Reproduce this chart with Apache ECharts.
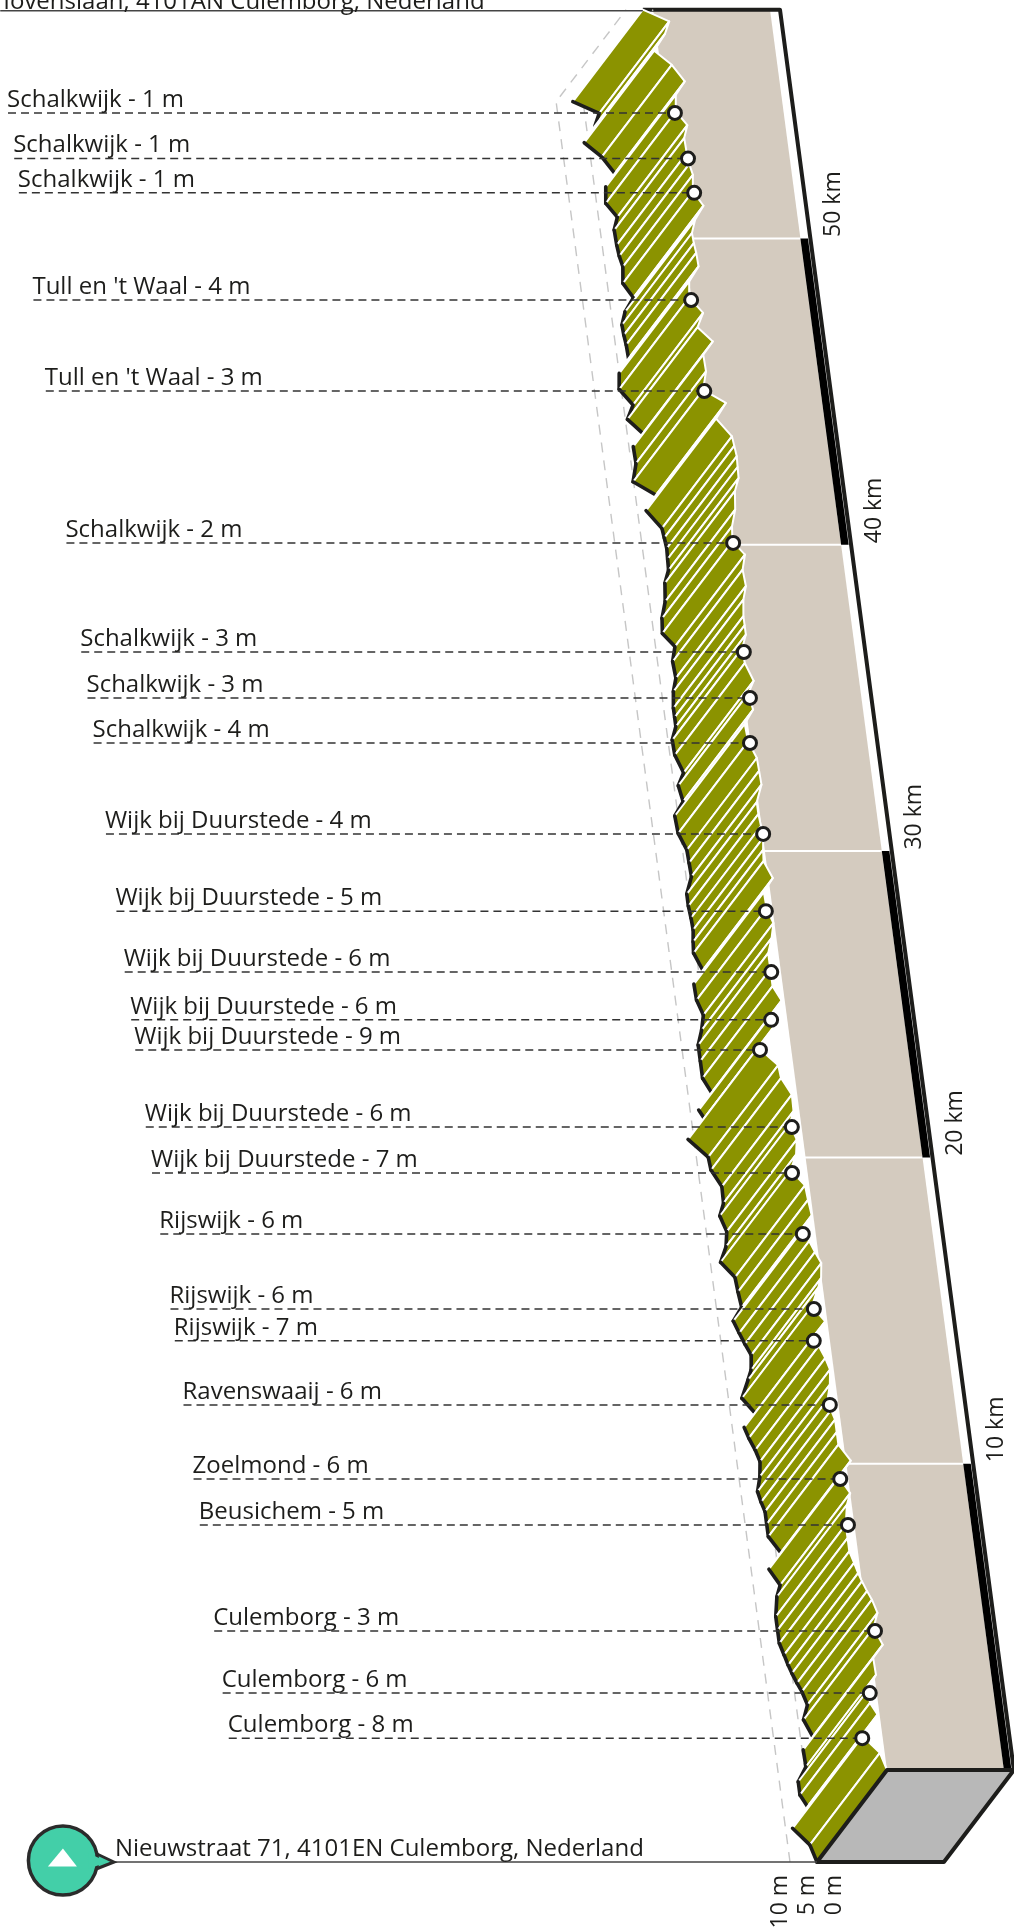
<!DOCTYPE html>
<html>
<head>
<meta charset="utf-8">
<title>Hoogteprofiel Culemborg</title>
<style>
  html, body { margin: 0; padding: 0; background: #fff; overflow: hidden; }
  #chart { width: 1014px; height: 1928px; }
</style>
</head>
<body>
<div id="chart"></div>
<script src="https://cdn.jsdelivr.net/npm/echarts@6/dist/echarts.min.js"></script>
<script>
// height profile along the route, from the far end (top) to the start (bottom)
const profileKm = [
  57.47,57.09,56.68,56.13,55.67,55.13,54.69,54.15,53.70,53.28,
  52.79,52.43,52.08,51.54,51.07,50.61,50.18,49.85,49.53,49.09,
  48.60,48.08,47.57,47.10,46.64,46.21,45.66,45.06,44.63,44.12,
  43.54,43.23,42.89,42.54,42.18,41.75,41.15,40.60,40.11,39.68,
  39.19,38.65,38.21,37.67,37.37,37.07,36.63,36.14,35.56,35.14,
  34.62,34.15,33.58,33.04,32.62,32.17,31.60,31.21,30.82,30.43,
  30.04,29.67,29.12,28.66,28.14,27.65,27.16,26.67,26.15,25.59,
  25.12,24.55,24.28,23.59,23.01,22.59,22.05,21.51,21.09,20.58,
  20.09,19.58,19.09,18.61,18.11,17.66,17.27,16.91,16.55,16.06,
  15.74,15.14,14.65,14.19,13.84,13.45,13.07,12.58,12.09,11.75,
  11.44,11.03,10.62,10.10,9.56,9.04,8.66,8.01,7.57,7.14,
  6.76,6.43,6.16,5.84,5.56,5.13,4.64,4.09,3.66,3.11,
  2.62,2.19,1.81,1.10,0.56,0
];
const profileM = [
  6.9,2.3,3.4,5.8,2.9,0.9,2.9,3.3,1.5,2.4,
  2.3,2.1,1.7,2.1,0.5,2.4,3.3,3.2,3.0,2.9,
  5.0,5.4,3.2,4.6,2.1,4.2,4.1,5.1,1.2,3.4,
  0.9,0.7,0.5,0.6,0.7,1.7,2.1,3.1,3.4,1.4,
  2.2,2.0,2.8,3.2,3.2,3.2,4.2,4.1,2.9,4.2,
  3.7,5.6,5.4,4.2,4.1,4.0,5.3,5.3,5.1,5.0,
  5.3,5.5,4.2,6.2,6.1,5.2,5.9,6.9,6.9,6.9,
  5.6,8.4,7.6,11.1,7.8,7.6,6.0,6.1,7.1,6.2,
  6.7,8.1,5.8,5.6,5.3,7.2,6.4,5.6,4.7,5.1,
  5.9,7.5,5.4,7.8,7.2,6.3,5.7,6.1,6.9,6.5,
  6.0,6.0,6.0,4.1,6.7,5.0,5.9,6.6,6.6,6.6,
  6.0,5.5,5.0,4.3,3.6,2.9,4.0,2.7,4.8,4.7,
  6.5,6.5,5.4,8.7,5.9,5.0
];

// named stops
const stopName = [
  'Schalkwijk','Schalkwijk','Schalkwijk',"Tull en 't Waal","Tull en 't Waal",
  'Schalkwijk','Schalkwijk','Schalkwijk','Schalkwijk',
  'Wijk bij Duurstede','Wijk bij Duurstede','Wijk bij Duurstede','Wijk bij Duurstede',
  'Wijk bij Duurstede','Wijk bij Duurstede','Wijk bij Duurstede',
  'Rijswijk','Rijswijk','Rijswijk','Ravenswaaij','Zoelmond','Beusichem',
  'Culemborg','Culemborg','Culemborg'
];
const stopLabelM = [1,1,1,4,3,2,3,3,4,4,5,6,6,9,6,7,6,6,7,6,6,5,3,6,8];
const stopKm = [54.10,52.61,51.49,47.99,45.02,40.06,36.50,35.00,33.53,30.56,28.04,26.05,24.49,23.51,20.99,19.49,17.50,15.05,14.01,11.92,9.50,8.00,4.54,2.51,1.04];
const stopPlotM = [3.5,2.2,1.9,5.1,4.9,3.3,4.0,4.0,5.1,4.9,6.3,6.8,8.0,10.8,6.8,7.9,7.4,7.2,8.0,6.6,6.5,6.2,3.8,6.3,8.8];

const scaleKm = [10,20,30,40,50];
const scaleLabels = ['10 km','20 km','30 km','40 km','50 km'];
const barStartKm = [0,20,40];
const barEndKm = [10,30,50];
const heightLines = [5,10];
const heightTicks = [0,5,10];
const heightLabels = ['0 m','5 m','10 m'];

const startAddress = 'Nieuwstraat 71, 4101EN Culemborg, Nederland';
const endAddress = 'Iovenslaan, 4101AN Culemborg, Nederland';
const routeKm = 57.47;

const FONT = '24px "Open Sans"';
const AXIS_FONT = '23px "Open Sans"';
const INK = '#1d1d1b';

// oblique projection, all in axis units (x axis: metres, y axis: km)
const M_PX = 5.4, KM_PX = 30.63;
const X_MAX = 1014 / M_PX, Y_MAX = 1770 / KM_PX, Y_MIN = -158 / KM_PX;
const X_ZERO = 844 / M_PX;       // 0 m line at km 0
const SKEW = 4.07 / M_PX;        // the road leans left going up
const DEPTH_X = 70 / M_PX;       // extrusion of the ribbon
const DEPTH_Y = 92 / KM_PX;

const PLANE_LEFT_M = 5, PLANE_RIGHT_M = -16.65, BAR_RIGHT_M = -18.05, EDGE_M = -18.5;
const LABEL_M = 127, LABEL_LEAN = 0.0167, ADDRESS_TOP_M = 125.9, ADDRESS_BOTTOM_M = 135.2;

function project(api, km, m, depth) {
  return api.coord([X_ZERO - SKEW * km - m + depth * DEPTH_X, km - DEPTH_Y + depth * DEPTH_Y]);
}

function text(pt, str, extra) {
  return Object.assign({
    type: 'text',
    style: Object.assign({ x: pt[0], y: pt[1], text: str, font: FONT, fill: INK }, extra)
  });
}

function rotatedText(pt, str, align) {
  return {
    type: 'text', x: pt[0], y: pt[1], rotation: Math.PI / 2,
    style: { x: 0, y: 0, text: str, font: AXIS_FONT, fill: INK, textAlign: align, textVerticalAlign: 'middle' }
  };
}

// one custom series with a single item, only to get at api.coord
function scene(z, renderItem) {
  return {
    type: 'custom', coordinateSystem: 'cartesian2d', z: z, silent: true,
    animation: false, clip: false, data: [[0, 0]], renderItem: renderItem
  };
}

function renderPlane(params, api) {
  const children = [{
    type: 'polygon',
    shape: { points: [
      project(api, 0, PLANE_LEFT_M, 1), project(api, 0, PLANE_RIGHT_M, 1),
      project(api, routeKm, PLANE_RIGHT_M, 1), project(api, routeKm, PLANE_LEFT_M, 1)
    ] },
    style: { fill: '#d4cbbf' }
  }];
  scaleKm.forEach(km => {
    children.push({
      type: 'line',
      shape: (() => {
        const a = project(api, km, PLANE_LEFT_M + 4, 1), b = project(api, km, PLANE_RIGHT_M, 1);
        return { x1: a[0], y1: a[1], x2: b[0], y2: b[1] };
      })(),
      style: { stroke: '#fff', lineWidth: 2 }
    });
  });
  barStartKm.forEach((km, i) => {
    children.push({
      type: 'polygon',
      shape: { points: [
        project(api, km, PLANE_RIGHT_M, 1), project(api, km, BAR_RIGHT_M, 1),
        project(api, barEndKm[i], BAR_RIGHT_M, 1), project(api, barEndKm[i], PLANE_RIGHT_M, 1)
      ] },
      style: { fill: '#000' }
    });
  });
  children.push({
    type: 'polyline',
    shape: { points: [
      project(api, routeKm, profileM[0], 1), project(api, routeKm, EDGE_M, 1), project(api, 0, EDGE_M, 1)
    ] },
    style: { stroke: INK, lineWidth: 4, fill: 'none', lineJoin: 'round' }
  });
  scaleKm.forEach((km, i) => {
    children.push(rotatedText(project(api, km + 0.05, EDGE_M - 4.3, 1), scaleLabels[i], 'left'));
  });
  return { type: 'group', children: children };
}

function renderHeightLines(params, api) {
  return {
    type: 'group',
    children: heightLines.map(m => ({
      type: 'polyline',
      shape: { points: [project(api, 0, m, 0), project(api, routeKm, m, 0), project(api, routeKm, m, 1)] },
      style: { stroke: '#c6c6c6', lineWidth: 1.4, lineDash: [10, 8], fill: 'none' }
    }))
  };
}

// every stretch of road is its own green quad, far ones are painted first
function renderRibbon(params, api) {
  const a = project(api, api.value(0), api.value(1), 0);
  const b = project(api, api.value(2), api.value(3), 0);
  const c = project(api, api.value(2), api.value(3), 1);
  const d = project(api, api.value(0), api.value(1), 1);
  const dx = b[0] - a[0], dy = b[1] - a[1], vx = d[0] - a[0], vy = d[1] - a[1];
  const facing = (dx * vy - dy * vx) / (Math.hypot(dx, dy) * Math.hypot(vx, vy));
  const children = [{
    type: 'polygon',
    shape: { points: [a, b, c, d] },
    style: { fill: '#8b9300', stroke: '#fff', lineWidth: 2, lineJoin: 'round' }
  }];
  if (facing < -0.1) {
    children.push({
      type: 'line',
      shape: { x1: a[0], y1: a[1], x2: b[0], y2: b[1] },
      style: { stroke: INK, lineWidth: 3.6, lineCap: 'round' }
    });
  }
  return { type: 'group', children: children };
}

function renderBox(params, api) {
  return {
    type: 'polygon',
    shape: { points: [
      project(api, 0, PLANE_LEFT_M, 0), project(api, 0, PLANE_LEFT_M, 1),
      project(api, 0, EDGE_M, 1), project(api, 0, EDGE_M, 0)
    ] },
    style: { fill: '#b8b8b8', stroke: INK, lineWidth: 4, lineJoin: 'round' }
  };
}

function renderStop(params, api) {
  const i = api.value(0);
  const start = project(api, stopKm[i], LABEL_M - LABEL_LEAN * (54.1 - stopKm[i]), 1);
  const dot = project(api, stopKm[i], stopPlotM[i], 1);
  return {
    type: 'group',
    children: [
      {
        type: 'line',
        shape: { x1: start[0], y1: start[1], x2: dot[0], y2: dot[1] },
        style: { stroke: '#333', lineWidth: 1.5, lineDash: [8, 5] }
      },
      {
        type: 'circle',
        shape: { cx: dot[0], cy: dot[1], r: 6.5 },
        style: { fill: '#fff', stroke: INK, lineWidth: 3 }
      },
      text([start[0] - 1, start[1] - 1], stopName[i] + ' - ' + stopLabelM[i] + ' m', { textVerticalAlign: 'bottom' })
    ]
  };
}

function renderAddresses(params, api) {
  const tip = project(api, 0, ADDRESS_BOTTOM_M, 0);
  const foot = project(api, 0, PLANE_LEFT_M, 0);
  const top = project(api, routeKm, ADDRESS_TOP_M, 1);
  const topEnd = project(api, routeKm, profileM[0], 1);
  const cx = tip[0] - 51, cy = tip[1] - 1.5;
  return {
    type: 'group',
    children: [
      { type: 'line', shape: { x1: tip[0], y1: tip[1], x2: foot[0], y2: foot[1] }, style: { stroke: '#444', lineWidth: 1.5 } },
      { type: 'line', shape: { x1: top[0], y1: top[1] + 1, x2: topEnd[0], y2: topEnd[1] + 1 }, style: { stroke: '#444', lineWidth: 1.5 } },
      text([tip[0] + 1, tip[1] - 1], startAddress, { textVerticalAlign: 'bottom' }),
      text([top[0] + 3, top[1] + 4], endAddress, { textVerticalAlign: 'bottom' }),
      {
        type: 'polygon',
        shape: { points: [[cx + 31, cy - 8], [tip[0], tip[1]], [cx + 32, cy + 9]] },
        style: { fill: '#43cfa8', stroke: '#2b2b2b', lineWidth: 3, lineJoin: 'miter' }
      },
      { type: 'circle', shape: { cx: cx, cy: cy, r: 34.5 }, style: { fill: '#43cfa8', stroke: '#2b2b2b', lineWidth: 3.5 } },
      {
        type: 'polygon',
        shape: { points: [[cx + 26, cy - 7], [tip[0] - 6, tip[1]], [cx + 26, cy + 8]] },
        style: { fill: '#43cfa8' }
      },
      {
        type: 'polygon',
        shape: { points: [[cx - 15, cy + 6], [cx, cy - 12], [cx + 14, cy + 6]] },
        style: { fill: '#fff' }
      }
    ]
  };
}

function renderHeightLabels(params, api) {
  return {
    type: 'group',
    children: heightTicks.map((m, i) => rotatedText(project(api, -0.42, m + 2, 0), heightLabels[i], 'right'))
  };
}

const chart = echarts.init(document.getElementById('chart'), null, { renderer: 'canvas' });
chart.setOption({
  animation: false,
  backgroundColor: '#fff',
  grid: { left: 0, right: 0, top: 0, bottom: 0 },
  xAxis: { type: 'value', min: 0, max: X_MAX, show: false },
  yAxis: { type: 'value', min: Y_MIN, max: Y_MAX, show: false },
  series: [
    scene(1, renderPlane),
    scene(2, renderHeightLines),
    {
      type: 'custom', coordinateSystem: 'cartesian2d', z: 3, silent: true, animation: false, clip: false,
      progressive: 0,
      data: profileKm.slice(1).map((km, i) => [profileKm[i], profileM[i], km, profileM[i + 1]]),
      renderItem: renderRibbon
    },
    scene(4, renderBox),
    {
      type: 'custom', coordinateSystem: 'cartesian2d', z: 5, silent: true, animation: false, clip: false,
      progressive: 0,
      data: stopName.map((name, i) => [i]),
      renderItem: renderStop
    },
    scene(6, renderAddresses),
    scene(6, renderHeightLabels)
  ]
});
</script>
</body>
</html>
